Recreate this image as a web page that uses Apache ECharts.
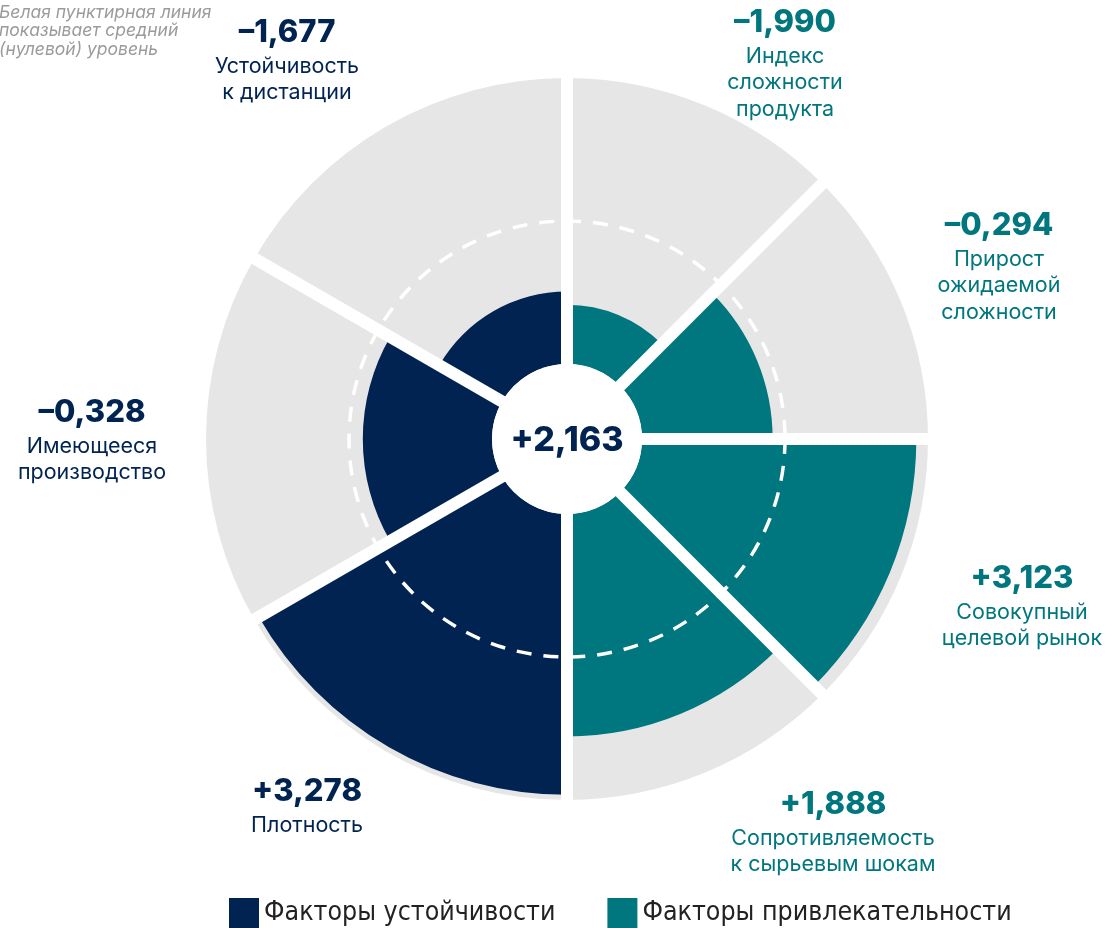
<!DOCTYPE html>
<html>
<head>
<meta charset="utf-8">
<title>Индекс факторов</title>
<script src="https://cdn.jsdelivr.net/npm/echarts@6/dist/echarts.min.js"></script>
<style>
  html, body { margin: 0; padding: 0; background: #ffffff; }
  #chart { width: 1109px; height: 928px; }
</style>
</head>
<body>
<div id="chart"></div>
<script>
// Factor names (line breaks as printed), index values and factor groups
const factorNames = [
  'Индекс\nсложности\nпродукта',
  'Прирост\nожидаемой\nсложности',
  'Совокупный\nцелевой рынок',
  'Сопротивляемость\nк сырьевым шокам',
  'Плотность',
  'Имеющееся\nпроизводство',
  'Устойчивость\nк дистанции'
];
const factorValues = [-1.990, -0.294, 3.123, 1.888, 3.278, -0.328, -1.677];
const factorGroups = [
  'Факторы привлекательности', 'Факторы привлекательности',
  'Факторы привлекательности', 'Факторы привлекательности',
  'Факторы устойчивости', 'Факторы устойчивости', 'Факторы устойчивости'
];
const groupNames = ['Факторы привлекательности', 'Факторы устойчивости'];
const legendOrder = ['Факторы устойчивости', 'Факторы привлекательности'];
const totalIndex = 2.163;
const zeroLevel = 0;
const radiusScale = [-3.4, 3.4];
const noteText = 'Белая пунктирная линия\nпоказывает средний\n(нулевой) уровень';

// Styling
const groupColors = {
  'Факторы привлекательности': '#00767e',
  'Факторы устойчивости': '#012352'
};
const trackColor = '#e6e6e6';
const labelFont = 'Inter, "Open Sans", sans-serif';
// Label anchor (centre of the value line) relative to the polar centre, px
const labelAnchors = [
  [218, -416], [432, -213], [455, 140], [266, 366],
  [-260, 353], [-475, -26], [-280, -406]
];

function fmt(v) {
  return (v < 0 ? '\u2013' : '+') + Math.abs(v).toFixed(3).replace('.', ',');
}

// Each group fills half of the circle, shared equally by its factors
const sectorAngles = [];
let angleCursor = 0;
groupNames.forEach(function (g) {
  const members = factorGroups.map(function (gg, i) { return gg === g ? i : -1; })
    .filter(function (i) { return i >= 0; });
  const span = 180 / members.length;
  members.forEach(function (i) {
    sectorAngles[i] = [angleCursor, angleCursor + span];
    angleCursor += span;
  });
});
const boundaries = sectorAngles.map(function (a) { return a[0]; });

function screenAngle(p, cx, cy) {
  return Math.atan2(p[1] - cy, p[0] - cx);
}

function renderSector(params, api) {
  const cs = params.coordSys;
  const v = api.value(0), a0 = api.value(1), a1 = api.value(2), idx = api.value(3);
  const pStart = api.coord([v, a0]);
  const pEnd = api.coord([v, a1]);
  const rBar = Math.hypot(pStart[0] - cs.cx, pStart[1] - cs.cy);
  let s = screenAngle(pStart, cs.cx, cs.cy);
  let e = screenAngle(pEnd, cs.cx, cs.cy);
  if (e <= s) e += Math.PI * 2;
  const color = api.visual('color');
  const anchor = labelAnchors[idx];
  const nameLines = factorNames[idx].split('\n');
  return {
    type: 'group',
    children: [
      {
        type: 'sector',
        shape: { cx: cs.cx, cy: cs.cy, r0: cs.r0, r: cs.r, startAngle: s, endAngle: e, clockwise: true },
        style: { fill: trackColor }
      },
      {
        type: 'sector',
        shape: { cx: cs.cx, cy: cs.cy, r0: cs.r0, r: rBar, startAngle: s, endAngle: e, clockwise: true },
        style: { fill: color }
      },
      {
        type: 'text',
        style: {
          x: cs.cx + anchor[0],
          y: cs.cy + anchor[1] - 20,
          align: 'center',
          verticalAlign: 'top',
          text: '{v|' + fmt(v) + '}\n' + nameLines.map(function (l) { return '{n|' + l + '}'; }).join('\n'),
          rich: {
            v: { fontFamily: labelFont, fontSize: 31, fontWeight: 800, lineHeight: 40, fill: color, align: 'center' },
            n: { fontFamily: labelFont, fontSize: 21.5, lineHeight: 26.5, fill: color, align: 'center' }
          }
        }
      }
    ]
  };
}

// White separators between sectors and the dashed zero-level ring
function renderOverlay(params, api) {
  const cs = params.coordSys;
  const p = api.coord([radiusScale[1], api.value(1)]);
  const dx = p[0] - cs.cx, dy = p[1] - cs.cy;
  const len = Math.hypot(dx, dy);
  const k = (len + 8) / len;
  const children = [{
    type: 'line',
    shape: { x1: cs.cx, y1: cs.cy, x2: cs.cx + dx * k, y2: cs.cy + dy * k },
    style: { stroke: '#ffffff', lineWidth: 12 }
  }];
  if (params.dataIndex === 0) {
    const pz = api.coord([zeroLevel, 0]);
    const rz = Math.hypot(pz[0] - cs.cx, pz[1] - cs.cy);
    children.unshift({
      type: 'circle',
      shape: { cx: cs.cx, cy: cs.cy, r: rz },
      style: { fill: 'none', stroke: '#ffffff', lineWidth: 3.5, lineDash: [15, 12] }
    });
  }
  return { type: 'group', children: children };
}

// Centre disc with the total index
function renderCentre(params, api) {
  const cs = params.coordSys;
  return {
    type: 'group',
    children: [
      {
        type: 'circle',
        shape: { cx: cs.cx, cy: cs.cy, r: cs.r0 },
        style: { fill: '#ffffff' }
      },
      {
        type: 'text',
        style: {
          x: cs.cx, y: cs.cy + 2, align: 'center', verticalAlign: 'middle',
          text: fmt(api.value(0)),
          fontFamily: labelFont, fontSize: 34, fontWeight: 800,
          fill: groupColors['Факторы устойчивости']
        }
      }
    ]
  };
}

const chart = echarts.init(document.getElementById('chart'), null, { renderer: 'canvas' });

const series = groupNames.map(function (g) {
  return {
    type: 'custom',
    name: g,
    coordinateSystem: 'polar',
    itemStyle: { color: groupColors[g] },
    encode: { radius: 0, angle: 1 },
    data: factorValues.map(function (v, i) {
      return factorGroups[i] === g ? [v, sectorAngles[i][0], sectorAngles[i][1], i] : null;
    }).filter(function (d) { return d; }),
    renderItem: renderSector,
    silent: true,
    z: 2
  };
});
series.push({
  type: 'custom',
  name: 'separators',
  coordinateSystem: 'polar',
  encode: { radius: 0, angle: 1 },
  data: boundaries.map(function (a) { return [radiusScale[1], a]; }),
  renderItem: renderOverlay,
  silent: true,
  z: 5
});
series.push({
  type: 'custom',
  name: 'total',
  coordinateSystem: 'polar',
  encode: { radius: 0, angle: 1 },
  data: [[totalIndex, 0]],
  renderItem: renderCentre,
  silent: true,
  z: 6
});

chart.setOption({
  animation: false,
  backgroundColor: '#ffffff',
  polar: { center: [567, 439], radius: [75, 361] },
  angleAxis: { type: 'value', min: 0, max: 360, startAngle: 90, clockwise: true, show: false },
  radiusAxis: { type: 'value', min: radiusScale[0], max: radiusScale[1], show: false },
  legend: {
    data: legendOrder,
    left: 229,
    top: 898,
    padding: 0,
    itemWidth: 30,
    itemHeight: 30,
    itemGap: 52,
    icon: 'rect',
    selectedMode: false,
    textStyle: { fontFamily: '"Liberation Sans Narrow", "DejaVu Sans Condensed", sans-serif', fontSize: 26.5, color: '#222222' }
  },
  graphic: [{
    type: 'text',
    left: -1,
    top: 3,
    style: {
      text: noteText,
      fontFamily: labelFont,
      fontStyle: 'italic',
      fontSize: 17.5,
      lineHeight: 18.5,
      fill: '#9b9b9b'
    }
  }],
  series: series
});
</script>
</body>
</html>
